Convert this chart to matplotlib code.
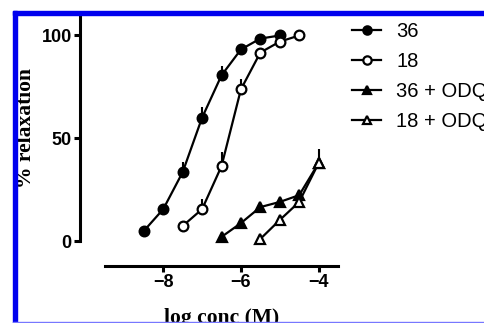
import matplotlib
matplotlib.use("Agg")
import matplotlib.pyplot as plt
from matplotlib.patches import Rectangle
import numpy as np

# log concentration (M) and % relaxation
x36 = [-8.5, -8.0, -7.5, -7.0, -6.5, -6.0, -5.5, -5.0]
y36 = [4.9, 15.5, 33.5, 60.0, 80.6, 93.2, 98.5, 100.0]
e36 = [0, 0, 5, 5, 4.5, 0, 0, 0]

x18 = [-7.5, -7.0, -6.5, -6.0, -5.5, -5.0, -4.5]
y18 = [7.3, 15.5, 36.4, 73.8, 91.7, 97.0, 100.0]
e18 = [0, 5, 7, 5, 0, 0, 0]

x36q = [-6.5, -6.0, -5.5, -5.0, -4.5, -4.0]
y36q = [2.0, 8.7, 16.5, 19.0, 22.3, 37.9]
e36q = [0, 0, 0, 0, 0, 0]

x18q = [-5.5, -5.0, -4.5, -4.0]
y18q = [1.0, 10.2, 19.0, 37.9]
e18q = [0, 0, 0, 7]

labels = ["36", "18", "36 + ODQ", "18 + ODQ"]

fig = plt.figure(figsize=(4.84, 3.23), dpi=100)
W, H = 484.0, 323.0
ax = fig.add_axes([105 / W, 1 - 241 / H, 233 / W, 224 / H])

series = [
    (x36, y36, e36, 'o', 'black'),
    (x18, y18, e18, 'o', 'white'),
    (x36q, y36q, e36q, '^', 'black'),
    (x18q, y18q, e18q, '^', 'white'),
]
handles = []
for (xs, ys, es, m, fc), lab in zip(series, labels):
    h = ax.errorbar(xs, ys, yerr=[np.zeros(len(es)), es], fmt='-' + m,
                    color='black', mfc=fc, mec='black', mew=1.6, ms=7,
                    lw=1.6, elinewidth=1.5, capsize=0, clip_on=False)
    handles.append(h[0])

ax.set_xlim(-9.5, -3.5)
ax.set_ylim(0, 109)
ax.set_xticks([-8, -6, -4])
ax.set_yticks([0, 50, 100])

for s in ['top', 'right']:
    ax.spines[s].set_visible(False)
ax.spines['left'].set_position(('outward', 18))
ax.spines['bottom'].set_position(('outward', 18))
ax.spines['left'].set_linewidth(2.2)
ax.spines['bottom'].set_linewidth(2.2)
ax.tick_params(width=2.2, length=4, pad=2)
for t in ax.get_xticklabels() + ax.get_yticklabels():
    t.set_fontfamily('Liberation Sans')
    t.set_fontweight('bold')
    t.set_fontsize(13)

leg = fig.legend(handles=handles, labels=labels, loc='upper left',
                 bbox_to_anchor=(352 / W, 1 - 22 / H), frameon=False,
                 handlelength=1.45, handletextpad=0.75, labelspacing=0.55,
                 borderaxespad=0, borderpad=0,
                 prop={'family': 'Liberation Sans', 'size': 14.5})
for ln in leg.get_lines():
    ln.set_markersize(6)

fig.text(221.5 / W, 0.0, "log conc (M)", ha='center', va='baseline',
         fontfamily='Liberation Serif', fontweight='bold', fontsize=15.5)
fig.text(26 / W, 1 - 128 / H, "% relaxation", ha='center', va='center',
         rotation=90, fontfamily='Liberation Serif', fontweight='bold',
         fontsize=15.5)

# blue frame of the clipped picture
blue = '#0000ee'
fig.add_artist(Rectangle((13 / W, 1 - 15 / H), 1, 4 / H, color=blue,
                         transform=fig.transFigure, zorder=10))
fig.add_artist(Rectangle((13 / W, 0), 4 / W, 1 - 11 / H, color=blue,
                         transform=fig.transFigure, zorder=10))
fig.add_artist(Rectangle((13 / W, 0), 1, 1.5 / H, color='#7777ff',
                         transform=fig.transFigure, zorder=10))

fig.savefig("out.png", dpi=100)
